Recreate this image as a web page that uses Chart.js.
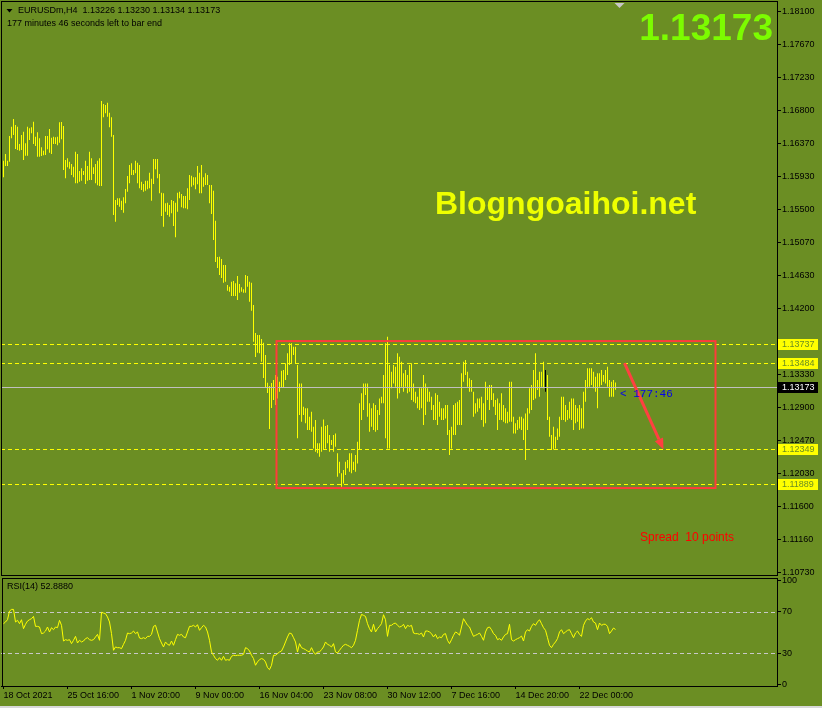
<!DOCTYPE html>
<html><head><meta charset="utf-8">
<script src="https://cdn.jsdelivr.net/npm/chart.js@4.4.1/dist/chart.umd.min.js"></script>
<style>
html,body{margin:0;padding:0;background:#6B8E23;width:822px;height:708px;overflow:hidden}
#w1{position:absolute;left:0;top:0;width:822px;height:576px}
#w2{position:absolute;left:0;top:576px;width:822px;height:130px}
#bot{position:absolute;left:0;top:706px;width:822px;height:2px;background:#d8d8d8}
canvas{display:block}
</style></head><body>
<div id="w1"><canvas id="c1" width="822" height="576"></canvas></div>
<div id="w2"><canvas id="c2" width="822" height="130"></canvas></div>
<div id="bot"></div>
<script>
// ---------- data ----------
const symbol = "EURUSDm,H4";
const ohlcLast = [1.13226, 1.13230, 1.13134, 1.13173];
const timerText = "177 minutes 46 seconds left to bar end";
const timeLabels = ['18 Oct 2021','25 Oct 16:00','1 Nov 20:00','9 Nov 00:00','16 Nov 04:00','23 Nov 08:00','30 Nov 12:00','7 Dec 16:00','14 Dec 20:00','22 Dec 00:00'];
const timeLabelBars = [0,32,64,96,128,160,192,224,256,288];
const priceTicks = [1.18100,1.17670,1.17230,1.16800,1.16370,1.15930,1.15500,1.15070,1.14630,1.14200,1.13330,1.12900,1.12470,1.12030,1.11600,1.11160,1.10730];
const levels = [1.13737, 1.13484, 1.12349, 1.11889];
const lastPrice = 1.13173;
const rsiTicks = [100, 70, 30, 0];
const rsiLevels = [70, 30];
const rsiLast = "52.8880";

const highs = [
1.16142,1.16230,1.16142,1.16467,1.16589,1.16690,1.16611,1.16589,1.16362,1.16480,
1.16523,1.16371,1.16589,1.16568,1.16581,1.16655,1.16458,1.16516,1.16437,1.16318,
1.16274,1.16467,1.16467,1.16559,1.16445,1.16458,1.16450,1.16458,1.16647,1.16651,
1.16598,1.16152,1.16174,1.16129,1.16099,1.16064,1.16261,1.16230,1.16007,1.16043,
1.16007,1.16142,1.16073,1.16261,1.16174,1.16056,1.16099,1.16142,1.16174,1.16927,
1.16887,1.16874,1.16905,1.16773,1.16713,1.16480,1.15626,1.15648,1.15648,1.15617,
1.15661,1.15771,1.15941,1.16086,1.16108,1.16020,1.16142,1.16116,1.16086,1.15866,
1.15836,1.15880,1.15880,1.15985,1.15906,1.16165,1.16165,1.16165,1.15968,1.15722,
1.15714,1.15583,1.15591,1.15560,1.15626,1.15613,1.15591,1.15722,1.15735,1.15705,
1.15679,1.15679,1.15780,1.15954,1.15945,1.15924,1.15924,1.16073,1.15985,1.16086,
1.15924,1.15977,1.15954,1.15823,1.15823,1.15748,1.15354,1.14877,1.14881,1.14851,
1.14772,1.14772,1.14509,1.14487,1.14552,1.14562,1.14531,1.14627,1.14522,1.14479,
1.14453,1.14640,1.14627,1.14552,1.14539,1.14246,1.13878,1.13852,1.13852,1.13800,
1.13751,1.13589,1.13225,1.13182,1.13221,1.13261,1.13326,1.13304,1.13238,1.13383,
1.13392,1.13480,1.13612,1.13743,1.13743,1.13698,1.13698,1.13458,1.13217,1.13217,
1.12910,1.12889,1.12889,1.12779,1.12844,1.12647,1.12735,1.12429,1.12429,1.12647,
1.12744,1.12656,1.12669,1.12538,1.12472,1.12538,1.12560,1.12298,1.12187,1.12035,
1.12078,1.12187,1.12210,1.12298,1.12298,1.12187,1.12275,1.12450,1.12955,1.13086,
1.13217,1.13217,1.13217,1.12955,1.12889,1.12955,1.12932,1.12867,1.13020,1.13041,
1.13326,1.13743,1.13830,1.13458,1.13370,1.13458,1.13436,1.13612,1.13567,1.13501,
1.13349,1.13392,1.13326,1.13458,1.13480,1.13217,1.13107,1.13041,1.13152,1.13152,
1.13326,1.13217,1.13152,1.13107,1.13041,1.12932,1.13086,1.13064,1.12976,1.12889,
1.12889,1.12932,1.12932,1.12604,1.12647,1.12932,1.12955,1.12976,1.12998,1.13349,
1.13501,1.13524,1.13370,1.13283,1.13261,1.13107,1.12955,1.13020,1.13020,1.13041,
1.12955,1.13238,1.13173,1.13195,1.13195,1.13086,1.12998,1.13020,1.12955,1.13086,
1.12932,1.12889,1.12844,1.13238,1.13238,1.12779,1.12692,1.12735,1.12779,1.12779,
1.12757,1.12823,1.12889,1.13152,1.13195,1.13392,1.13612,1.13261,1.13370,1.13370,
1.13501,1.13392,1.13326,1.12779,1.12538,1.12647,1.12516,1.12626,1.12779,1.13041,
1.13041,1.12932,1.12867,1.12976,1.13020,1.13020,1.12932,1.12889,1.12932,1.12889,
1.13107,1.13261,1.13415,1.13415,1.13415,1.13370,1.13304,1.13349,1.13349,1.13392,
1.13326,1.13392,1.13436,1.13261,1.13238,1.13261,1.13230];

const lows = [
1.15924,1.16073,1.16073,1.16129,1.16437,1.16480,1.16296,1.16283,1.16274,1.16283,
1.16152,1.16208,1.16208,1.16414,1.16502,1.16362,1.16336,1.16195,1.16195,1.16204,
1.16213,1.16217,1.16292,1.16248,1.16230,1.16362,1.16362,1.16345,1.16379,1.16424,
1.16020,1.15911,1.16056,1.16037,1.15954,1.15924,1.15845,1.15845,1.15866,1.15880,
1.15954,1.15836,1.15880,1.15889,1.15889,1.15968,1.15845,1.15819,1.15810,1.15810,
1.16713,1.16765,1.16721,1.16581,1.16458,1.15429,1.15341,1.15560,1.15538,1.15495,
1.15459,1.15583,1.15735,1.15845,1.15954,1.15954,1.15977,1.15845,1.15780,1.15757,
1.15735,1.15748,1.15767,1.15780,1.15617,1.15836,1.16029,1.15911,1.15714,1.15416,
1.15275,1.15472,1.15429,1.15407,1.15451,1.15284,1.15136,1.15472,1.15648,1.15530,
1.15517,1.15517,1.15504,1.15626,1.15801,1.15819,1.15767,1.15832,1.15714,1.15714,
1.15801,1.15823,1.15823,1.15583,1.15442,1.15100,1.14811,1.14732,1.14640,1.14601,
1.14539,1.14552,1.14434,1.14421,1.14365,1.14365,1.14365,1.14312,1.14408,1.14421,
1.14408,1.14408,1.14487,1.14290,1.14171,1.13764,1.13563,1.13620,1.13612,1.13501,
1.13287,1.13169,1.13090,1.12617,1.12893,1.12998,1.12932,1.13020,1.13107,1.13169,
1.13169,1.13261,1.13326,1.13458,1.13480,1.13589,1.13480,1.12495,1.12801,1.12713,
1.12801,1.12692,1.12604,1.12604,1.12581,1.12363,1.12319,1.12298,1.12253,1.12319,
1.12341,1.12363,1.12429,1.12319,1.12407,1.12319,1.12384,1.11990,1.12035,1.11859,
1.11903,1.12012,1.12101,1.12056,1.12035,1.12078,1.12056,1.12166,1.12350,1.12735,
1.12867,1.13064,1.12779,1.12581,1.12647,1.12604,1.12581,1.12604,1.12801,1.12955,
1.12955,1.12495,1.12363,1.12363,1.13152,1.13217,1.13173,1.13020,1.13086,1.13173,
1.13107,1.13173,1.13086,1.13107,1.12998,1.12976,1.12955,1.12889,1.12867,1.12889,
1.12669,1.12801,1.12976,1.12976,1.12867,1.12735,1.12735,1.12669,1.12779,1.12735,
1.12735,1.12757,1.12538,1.12275,1.12363,1.12538,1.12538,1.12669,1.12669,1.12669,
1.13238,1.13326,1.13173,1.13107,1.13107,1.12779,1.12823,1.12844,1.12889,1.12735,
1.12647,1.12692,1.12998,1.12867,1.12998,1.12910,1.12801,1.12604,1.12735,1.12735,
1.12713,1.12692,1.12692,1.12713,1.12713,1.12560,1.12560,1.12604,1.12626,1.12604,
1.12472,1.12210,1.12604,1.12823,1.12867,1.12998,1.13020,1.13130,1.13041,1.13173,
1.13152,1.13107,1.12735,1.12516,1.12341,1.12350,1.12363,1.12472,1.12516,1.12735,
1.12735,1.12713,1.12735,1.12757,1.12735,1.12604,1.12692,1.12713,1.12604,1.12626,
1.12626,1.12976,1.13152,1.13173,1.13195,1.13152,1.13107,1.12889,1.13173,1.13195,
1.13238,1.13217,1.13173,1.13041,1.13041,1.13041,1.13134];

const rsi = [
58.5,60.1,62.3,70.6,72.2,72.2,60.1,61.7,58.5,62.3,
53.7,57.9,61.0,62.3,63.3,65.5,55.9,55.9,55.3,48.9,
49.5,51.4,55.3,50.5,54.6,52.7,55.3,54.6,61.7,56.9,
41.8,43.1,42.5,43.1,39.3,42.5,46.3,39.9,42.5,40.9,
41.8,44.1,45.0,43.1,42.5,43.1,45.7,48.2,42.5,69.4,
68.7,68.1,64.9,60.1,48.9,32.9,36.1,35.4,35.4,34.5,
38.6,42.5,49.5,48.9,49.5,51.4,48.9,50.5,44.7,44.1,
45.0,44.1,46.3,46.3,48.2,55.9,56.9,50.5,44.1,39.9,
36.1,40.9,38.6,37.7,41.8,37.7,43.1,48.2,47.3,48.2,
45.7,45.0,50.5,55.9,55.9,56.9,55.3,57.5,52.1,54.6,
56.9,55.3,50.5,42.5,31.3,28.1,24.9,23.3,25.8,23.3,
27.1,23.3,23.9,23.3,27.1,28.1,27.8,28.1,28.1,28.1,
29.0,35.4,34.5,32.2,28.1,24.9,18.5,21.7,23.9,24.9,
24.2,21.7,16.2,14.3,18.5,28.1,28.1,29.7,31.3,32.2,
36.1,40.9,45.7,49.5,48.9,45.0,40.9,31.3,39.3,35.4,
34.5,33.5,32.2,31.3,35.4,31.3,29.0,31.3,31.3,33.5,
36.1,40.9,38.6,37.7,36.1,39.3,31.3,30.3,32.9,35.4,
37.7,38.6,37.7,36.7,35.4,37.7,42.5,52.1,61.7,67.4,
66.5,65.5,58.5,53.7,50.5,57.9,50.5,53.7,55.9,58.5,
67.1,62.3,46.3,56.9,56.9,58.5,59.1,56.9,55.3,55.9,
57.9,53.7,56.9,55.9,56.9,49.5,48.9,48.9,48.2,49.5,
45.7,51.4,51.4,50.5,48.9,45.7,48.2,44.1,45.7,45.0,
48.2,48.9,42.5,39.3,43.1,47.3,50.5,49.5,47.3,55.3,
63.3,60.1,56.9,55.3,50.5,46.3,47.3,48.2,49.5,46.3,
42.5,50.5,54.6,55.3,52.7,48.9,47.3,43.1,44.1,42.5,
45.7,48.2,48.9,57.9,43.1,41.8,43.1,44.1,45.0,46.6,
41.8,50.5,52.7,51.4,55.9,58.5,56.9,60.1,62.3,58.5,
54.6,52.1,45.0,37.7,35.4,38.6,40.9,44.1,50.5,52.7,
48.9,50.5,52.1,52.7,48.9,45.0,49.5,51.4,48.2,46.3,
56.9,61.0,63.3,62.3,64.2,60.1,59.1,52.7,59.1,56.9,
57.9,57.9,55.9,48.9,51.4,54.3,52.888];

// drawn objects, in data units (bar index, price)
const rangeBox = {x0:136.5, x1:356, top:1.13773, bottom:1.11842};
const arrowObj = {x0:310.5, y0:1.13484, x1:330, y1:1.12349};
const markedBar = 271;

// ---------- chart ----------
const FONT = "'Liberation Sans', Arial, sans-serif";
const XMIN = -1.25, XMAX = 386.75;
Chart.defaults.font.family = FONT;
Chart.defaults.font.size = 9;
Chart.defaults.color = '#000';

function yAxisFit(s){ s.width = 45; s.paddingTop = 0; s.paddingBottom = 0; }

const mainDeco = {
  id:'mainDeco',
  afterDatasetsDraw(chart){
    const {ctx, chartArea:a, scales:{x,y}} = chart;
    ctx.save();
    ctx.lineWidth = 1;
    ctx.setLineDash([4,3]);
    ctx.strokeStyle = '#FFFF00';
    levels.forEach(v=>{
      const py = Math.round(y.getPixelForValue(v)) + 0.5;
      ctx.beginPath(); ctx.moveTo(a.left, py); ctx.lineTo(a.right, py); ctx.stroke();
    });
    ctx.setLineDash([]);
    ctx.strokeStyle = '#C0C0C0';
    const cy = Math.round(y.getPixelForValue(lastPrice)) + 0.5;
    ctx.beginPath(); ctx.moveTo(a.left, cy); ctx.lineTo(a.right, cy); ctx.stroke();

    // range rectangle
    ctx.strokeStyle = '#FF3B3B';
    ctx.lineWidth = 2;
    const bx0 = x.getPixelForValue(rangeBox.x0), bx1 = x.getPixelForValue(rangeBox.x1);
    const by0 = y.getPixelForValue(rangeBox.top), by1 = y.getPixelForValue(rangeBox.bottom);
    ctx.strokeRect(bx0, by0, bx1-bx0, by1-by0);

    // arrow
    const ax0 = x.getPixelForValue(arrowObj.x0), ay0 = y.getPixelForValue(arrowObj.y0);
    const ax1 = x.getPixelForValue(arrowObj.x1), ay1 = y.getPixelForValue(arrowObj.y1);
    const ang = Math.atan2(ay1-ay0, ax1-ax0);
    const hl = 11, hw = 4.5;
    const bxA = ax1 - hl*Math.cos(ang), byA = ay1 - hl*Math.sin(ang);
    ctx.strokeStyle = '#FF4040'; ctx.fillStyle = '#FF4040';
    ctx.lineWidth = 3;
    ctx.beginPath(); ctx.moveTo(ax0, ay0); ctx.lineTo(bxA, byA); ctx.stroke();
    ctx.beginPath();
    ctx.moveTo(ax1, ay1);
    ctx.lineTo(bxA + hw*Math.sin(ang), byA - hw*Math.cos(ang));
    ctx.lineTo(bxA - hw*Math.sin(ang), byA + hw*Math.cos(ang));
    ctx.closePath(); ctx.fill();
    ctx.restore();
  },
  afterDraw(chart){
    const {ctx, chartArea:a, scales:{x,y}} = chart;
    ctx.save();
    // frame
    ctx.strokeStyle = '#000'; ctx.lineWidth = 1;
    ctx.strokeRect(a.left+0.5, a.top+0.5, a.right-a.left, a.bottom-a.top);
    // header
    ctx.fillStyle = '#000';
    ctx.beginPath(); ctx.moveTo(6.5, 9); ctx.lineTo(12.5, 9); ctx.lineTo(9.5, 12.5); ctx.closePath(); ctx.fill();
    ctx.font = '9px ' + FONT; ctx.textBaseline = 'middle'; ctx.textAlign = 'left';
    ctx.fillText(symbol + '  ' + ohlcLast.map(v=>v.toFixed(5)).join(' '), 18, 11);
    ctx.fillText(timerText, 7, 24);
    // big price
    ctx.font = 'bold 37px ' + FONT; ctx.textBaseline = 'alphabetic'; ctx.textAlign = 'right';
    ctx.fillStyle = '#7CFC00';
    ctx.fillText(lastPrice.toFixed(5), a.right - 4, 39.5);
    // watermark
    ctx.font = 'bold 32px ' + FONT; ctx.textAlign = 'left';
    ctx.fillStyle = '#EEFF00';
    ctx.fillText('Blogngoaihoi.net', 435, 213.5);
    // spread
    ctx.font = '12px ' + FONT; ctx.fillStyle = '#FF0000';
    ctx.fillText('Spread  10 points', 640, 541);
    // timer near price
    ctx.font = "11px 'Liberation Mono', 'DejaVu Sans Mono', monospace"; ctx.fillStyle = '#0000EE';
    ctx.textBaseline = 'middle';
    ctx.fillText('< 177:46', 620, y.getPixelForValue(lastPrice) + 7);
    // shift marker
    ctx.fillStyle = '#C8C8C8';
    ctx.beginPath(); ctx.moveTo(614.5, 3); ctx.lineTo(624.5, 3); ctx.lineTo(619.5, 8); ctx.closePath(); ctx.fill();
    // price labels on axis
    ctx.font = '9px ' + FONT; ctx.textAlign = 'left'; ctx.textBaseline = 'middle';
    levels.forEach(v=>{
      const py = y.getPixelForValue(v);
      ctx.fillStyle = '#FFFF00'; ctx.fillRect(a.right+1, Math.round(py)-5, 40, 11);
      ctx.fillStyle = '#6B8E23'; ctx.fillText(v.toFixed(5), a.right+5, py+0.5);
    });
    const cy = y.getPixelForValue(lastPrice);
    ctx.fillStyle = '#000'; ctx.fillRect(a.right+1, Math.round(cy)-5, 40, 11);
    ctx.fillStyle = '#FFF'; ctx.fillText(lastPrice.toFixed(5), a.right+5, cy+0.5);
    ctx.restore();
  }
};

new Chart(document.getElementById('c1'), {
  type: 'bar',
  data: {
    datasets: [{
      data: highs.map((h,i)=>({x:i, y:[lows[i], h]})),
      backgroundColor: highs.map((h,i)=> i===markedBar ? '#000000' : '#FFFF00'),
      borderWidth: 0,
      borderSkipped: false,
      inflateAmount: 0,
      barThickness: 1,
      grouped: false
    }]
  },
  options: {
    responsive: false, animation: false, devicePixelRatio: 1,
    layout: {padding: {left:1, top:1, right:0, bottom:1}},
    plugins: {legend:{display:false}, tooltip:{enabled:false}},
    scales: {
      x: {type:'linear', min:XMIN, max:XMAX, offset:false, display:false},
      y: {
        type:'linear', position:'right', min:1.106998, max:1.182406, bounds:'data',
        afterBuildTicks: s => { s.ticks = priceTicks.map(v=>({value:v})); },
        afterFit: yAxisFit,
        grid: {drawOnChartArea:false, drawTicks:true, tickLength:4, color:'#000'},
        border: {display:true, color:'#000'},
        ticks: {autoSkip:false, padding:1, color:'#000', font:{size:9}, callback: v => Number(v).toFixed(5)}
      }
    }
  },
  plugins: [mainDeco]
});

const rsiDeco = {
  id:'rsiDeco',
  beforeDatasetsDraw(chart){
    const {ctx, chartArea:a, scales:{y}} = chart;
    ctx.save();
    ctx.strokeStyle = '#C8C8C8'; ctx.lineWidth = 1; ctx.setLineDash([4,3]);
    rsiLevels.forEach(v=>{
      const py = Math.round(y.getPixelForValue(v)) + 0.5;
      ctx.beginPath(); ctx.moveTo(a.left, py); ctx.lineTo(a.right, py); ctx.stroke();
    });
    ctx.restore();
  },
  afterDraw(chart){
    const {ctx, chartArea:a} = chart;
    ctx.save();
    ctx.strokeStyle = '#000'; ctx.lineWidth = 1;
    ctx.strokeRect(a.left+1.5, a.top+0.5, a.right-a.left-1, a.bottom-a.top);
    ctx.fillStyle = '#000'; ctx.font = '9px ' + FONT; ctx.textBaseline = 'middle'; ctx.textAlign = 'left';
    ctx.fillText('RSI(14) ' + rsiLast, 7, 11);
    ctx.restore();
  }
};

new Chart(document.getElementById('c2'), {
  type: 'line',
  data: {
    datasets: [{
      data: rsi.map((v,i)=>({x:i, y:v})),
      borderColor: '#FFFF00', borderWidth: 1, pointRadius: 0, tension: 0, fill: false
    }]
  },
  options: {
    responsive: false, animation: false, devicePixelRatio: 1,
    layout: {padding: {left:1, top:2, right:0, bottom:0}},
    plugins: {legend:{display:false}, tooltip:{enabled:false}},
    scales: {
      x: {
        type:'linear', min:XMIN, max:XMAX, offset:false, bounds:'data',
        afterBuildTicks: s => { s.ticks = timeLabelBars.map(v=>({value:v})); },
        afterFit: s => { s.height = 20; s.paddingLeft = 0; s.paddingRight = 0; },
        grid: {drawOnChartArea:false, drawTicks:true, tickLength:3, color:'#000'},
        border: {display:true, color:'#000'},
        ticks: {autoSkip:false, maxRotation:0, align:'start', padding:1, color:'#000', font:{size:9},
                callback: (v, i) => timeLabels[i]}
      },
      y: {
        type:'linear', position:'right', min:-1.44, max:102.4, bounds:'data',
        afterBuildTicks: s => { s.ticks = rsiTicks.map(v=>({value:v})); },
        afterFit: yAxisFit,
        grid: {drawOnChartArea:false, drawTicks:true, tickLength:4, color:'#000'},
        border: {display:true, color:'#000'},
        ticks: {autoSkip:false, padding:1, color:'#000', font:{size:9}, callback: v => String(v)}
      }
    }
  },
  plugins: [rsiDeco]
});
</script>
</body></html>
